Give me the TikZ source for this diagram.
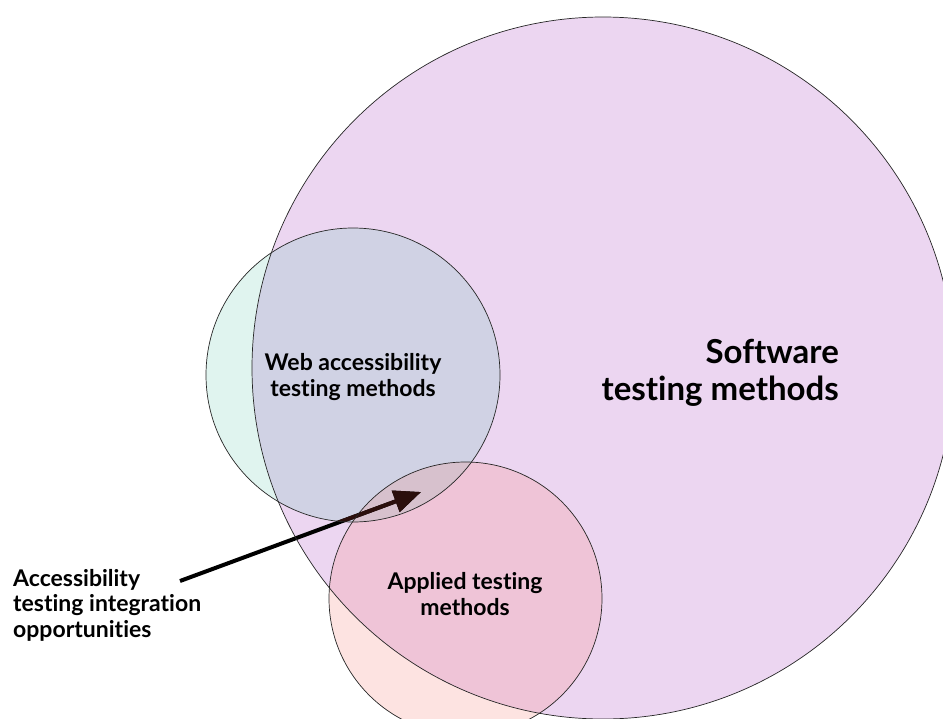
\documentclass[tikz,border=0pt]{standalone}
\usepackage{fontspec}
\setmainfont{Lato}[Ligatures=NoCommon]
\usetikzlibrary{arrows.meta}
\definecolor{swpurple}{HTML}{ECD6F1}
\definecolor{webmint}{HTML}{E0F4EF}
\definecolor{weblav}{HTML}{D0D2E4}
\definecolor{apppeach}{HTML}{FDE3E1}
\definecolor{apppink}{HTML}{EFC4D7}
\definecolor{triple}{HTML}{D7C1CD}
\definecolor{arrowdark}{HTML}{2B0F0C}
\tikzset{
  ring/.style={draw=black!85, line width=0.7pt},
  biglabel/.style={font=\bfseries\fontsize{33}{37}\selectfont, inner sep=0pt},
  label/.style={font=\bfseries\fontsize{23}{25.5}\selectfont, inner sep=0pt},
  pointer/.style={line width=4pt, -{Triangle[length=27pt,width=22pt]}},
}
\begin{document}
\begin{tikzpicture}[x=1pt,y=-1pt]
\useasboundingbox (0,0) rectangle (943,718);
\coordinate (sw) at (603,368);
\coordinate (web) at (353,375);
\coordinate (app) at (465.5,598.5);
\coordinate (tail) at (180,581);
\coordinate (tip) at (421,492);
\begin{scope}
  \clip (0,0) rectangle (943,718);
  % circle fills, overlaps coloured region by region
  \fill[swpurple] (sw) circle[radius=351pt];
  \fill[webmint] (web) circle[radius=147pt];
  \begin{scope}
    \clip (sw) circle[radius=351pt];
    \fill[weblav] (web) circle[radius=147pt];
  \end{scope}
  \fill[apppeach] (app) circle[radius=136.5pt];
  \begin{scope}
    \clip (sw) circle[radius=351pt];
    \fill[apppink] (app) circle[radius=136.5pt];
    \clip (web) circle[radius=147pt];
    \fill[triple] (app) circle[radius=136.5pt];
  \end{scope}
  % pointer to the triple overlap
  \draw[pointer] (tail) -- (tip);
  \begin{scope}
    \clip (web) circle[radius=147pt];
    \draw[pointer, arrowdark] (tail) -- (tip);
  \end{scope}
  % outlines
  \draw[ring] (sw) circle[radius=351pt];
  \draw[ring] (web) circle[radius=147pt];
  \draw[ring] (app) circle[radius=136.5pt];
\end{scope}
% labels (base anchor sits on the last line)
\node[biglabel, align=right, anchor=base east] (swl) at (839,400) {Software\\testing methods};
\node[label, align=center, anchor=base] (webl) at (353,396) {Web accessibility\\testing methods};
\node[label, align=center, anchor=base] (appl) at (465,615) {Applied testing\\methods};
\node[label, align=left, anchor=base west] (accl) at (13,637) {Accessibility\\testing integration\\opportunities};
\end{tikzpicture}
\end{document}
